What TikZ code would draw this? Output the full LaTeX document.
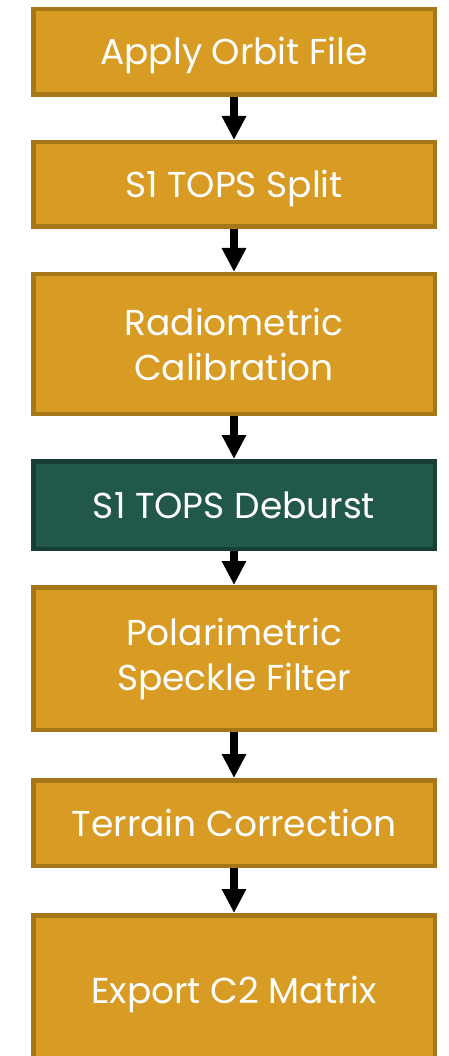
\documentclass[tikz,border=0pt]{standalone}
\usepackage{fontspec}
\setmainfont{Poppins}
\usetikzlibrary{arrows.meta}
\definecolor{goldfill}{HTML}{D89B23}
\definecolor{goldline}{HTML}{A67718}
\definecolor{greenfill}{HTML}{215849}
\definecolor{greenline}{HTML}{173F36}
\tikzset{
  stepbox/.style={draw=goldline, fill=goldfill, line width=4.5pt, minimum width=401.5pt,
    text=white, align=center, inner sep=0pt, font=\fontsize{36}{45}\selectfont},
  greenbox/.style={stepbox, draw=greenline, fill=greenfill},
  oneline/.style={text height=26pt, text depth=0pt},
  flowarrow/.style={line width=8pt, -{Triangle[width=23pt,length=24pt]}}
}
\begin{document}
\begin{tikzpicture}[x=1pt,y=-1pt]
\useasboundingbox (0,0) rectangle (449,1056);
\node[stepbox, oneline, minimum height=85.5pt] (a) at (234,52) {Apply Orbit File};
\node[stepbox, oneline, minimum height=84.5pt] (b) at (234,184.5) {S1 TOPS Split};
\node[stepbox, minimum height=139.5pt] (c) at (234,344) {Radiometric\\Calibration};
\node[greenbox, oneline, minimum height=87.5pt] (d) at (234,505) {S1 TOPS Deburst};
\node[stepbox, minimum height=142.5pt] (e) at (234,658.5) {Polarimetric\\Speckle Filter};
\node[stepbox, oneline, minimum height=85.5pt] (f) at (234,823) {Terrain Correction};
\node[stepbox, oneline, minimum height=149.5pt] (g) at (234,990) {Export C2 Matrix};
\draw[flowarrow] (a.south) -- (b.north);
\draw[flowarrow] (b.south) -- (c.north);
\draw[flowarrow] (c.south) -- (d.north);
\draw[flowarrow] (d.south) -- (e.north);
\draw[flowarrow] (e.south) -- (f.north);
\draw[flowarrow] (f.south) -- (g.north);
\end{tikzpicture}
\end{document}
